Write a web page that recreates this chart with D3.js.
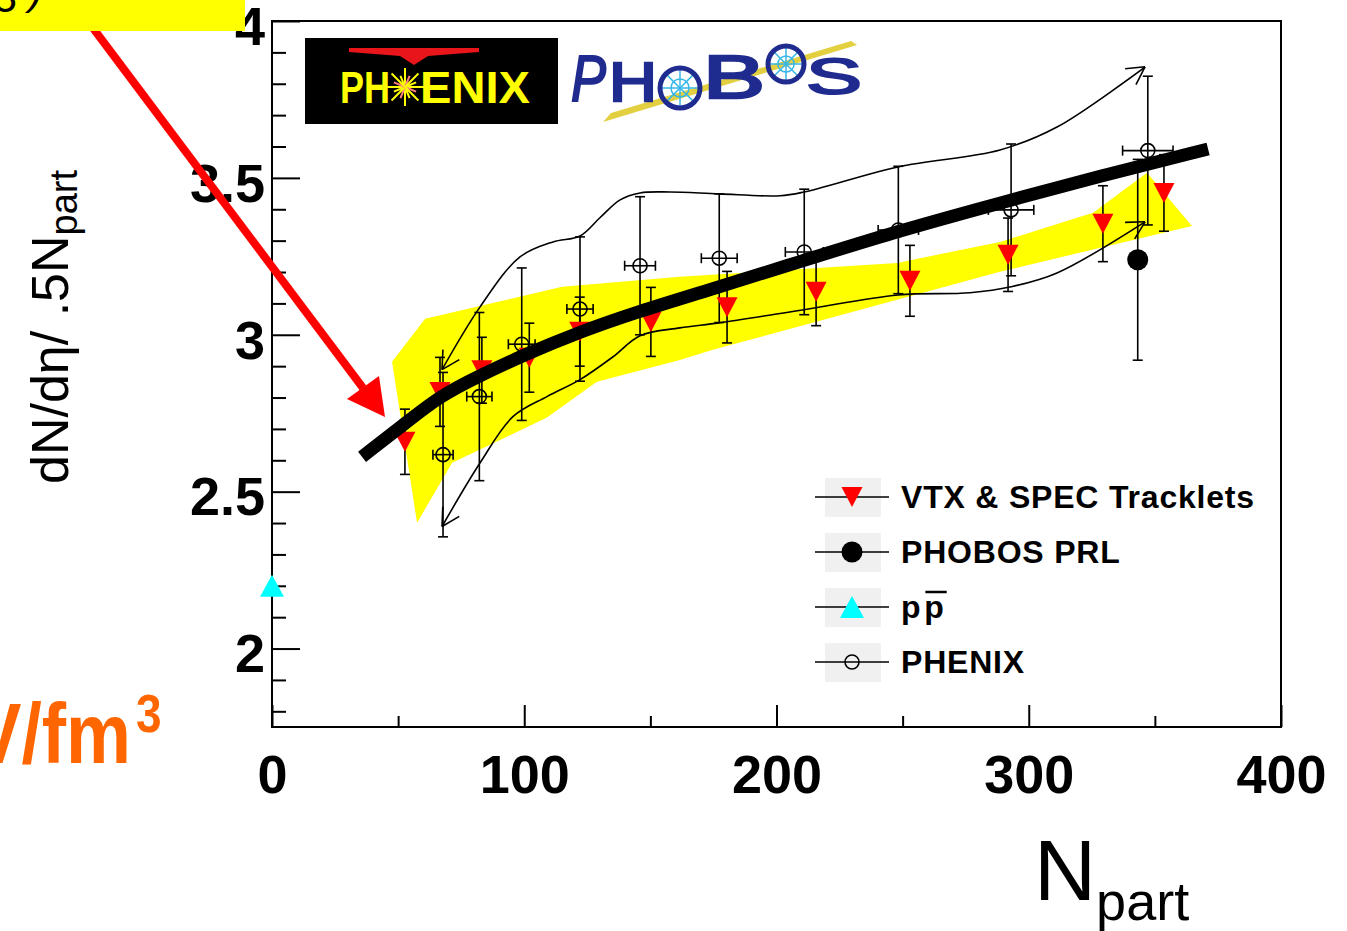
<!DOCTYPE html>
<html>
<head>
<meta charset="utf-8">
<script src="https://cdn.jsdelivr.net/npm/d3@7"></script>
<style>
  body { margin: 0; background: #fff; }
  svg { display: block; }
  text { font-family: "Liberation Sans", Arial, Helvetica, sans-serif; }
</style>
</head>
<body>
<svg id="chart" width="1347" height="931"></svg>
<script>
// ---- VTX & SPEC tracklets ----
const vtxNpart  = [52.7, 66.6, 83.2, 102.0, 122.0, 150.2, 180.4, 215.7, 252.9, 291.8, 329.4, 353.6];
const vtxDndeta = [2.659, 2.818, 2.887, 2.927, 3.010, 3.041, 3.088, 3.137, 3.172, 3.255, 3.354, 3.452];
const vtxErr    = [0.104, 0.110, 0.105, 0.110, 0.110, 0.110, 0.114, 0.108, 0.113, 0.117, 0.121, 0.122];

// ---- PHENIX ----
const phenixNpart    = [67.8, 82.2, 99.0, 122.1, 145.9, 177.3, 211.0, 248.3, 293.0, 347.2];
const phenixDndeta   = [2.618, 2.803, 2.970, 3.082, 3.220, 3.244, 3.264, 3.334, 3.398, 3.587];
const phenixErr      = [0.262, 0.268, 0.243, 0.230, 0.220, 0.205, 0.200, 0.203, 0.210, 0.237];
const phenixNpartErr = [4.0, 5.0, 5.3, 5.2, 6.1, 7.1, 7.5, 8.0, 9.0, 10.0];

// PHENIX systematic envelope (upper / lower)
const upperNpart  = [67.4, 82.5, 98.3, 111.4, 122.1, 130.0, 138.0, 145.9, 157.8, 177.2, 201.4, 210.9, 248.2, 288.6, 311.2, 346.1];
const upperDndeta = [2.889, 3.089, 3.248, 3.296, 3.315, 3.373, 3.430, 3.452, 3.455, 3.449, 3.443, 3.455, 3.535, 3.589, 3.662, 3.854];
const lowerNpart  = [67.4, 82.5, 95.5, 109.0, 122.1, 135.2, 145.9, 161.7, 177.2, 210.9, 248.2, 276.7, 293.0, 311.2, 346.1];
const lowerDndeta = [2.389, 2.592, 2.739, 2.803, 2.857, 2.930, 2.997, 3.022, 3.038, 3.080, 3.127, 3.134, 3.153, 3.197, 3.360];

// ---- PHOBOS PRL ----
const phobosNpart  = [343.2];
const phobosDndeta = [3.239];
const phobosErr    = [0.32];

// ---- p pbar ----
const ppNpart  = [0];
const ppDndeta = [2.2];

// ---- systematic band (closed outline) ----
const bandNpart  = [47.6, 60.7, 115.0, 161.7, 247.8, 288.6, 325.5, 346.9, 364.7, 288.6, 174.8, 161.7, 128.8, 109.0, 71.4, 57.5];
const bandDndeta = [2.914, 3.051, 3.153, 3.185, 3.229, 3.296, 3.389, 3.516, 3.347, 3.201, 2.952, 2.920, 2.850, 2.736, 2.592, 2.401];

// ---- model curve ----
const modelNpart  = [35.7, 50.7, 66.6, 82.5, 99.1, 122.1, 145.9, 169.7, 210.5, 248.2, 288.6, 328.2, 371.1];
const modelDndeta = [2.611, 2.704, 2.806, 2.870, 2.933, 3.010, 3.076, 3.134, 3.236, 3.331, 3.420, 3.506, 3.592];

// ---- axes ----
const xMajor = [0, 100, 200, 300, 400];
const xMinor = [50, 150, 250, 350];
const yMajor = [2, 2.5, 3, 3.5, 4];
const yMinor = [1.8, 1.9, 2.1, 2.2, 2.3, 2.4, 2.6, 2.7, 2.8, 2.9, 3.1, 3.2, 3.3, 3.4, 3.6, 3.7, 3.8, 3.9];

const legendLabels = ["VTX & SPEC Tracklets", "PHOBOS PRL", "pp", "PHENIX"];
const legendKinds  = ["tridown", "dot", "triup", "open"];

const svg = d3.select("#chart");
const x = d3.scaleLinear().domain([0, 400]).range([272, 1281]);
const y = d3.scaleLinear().domain([1.75, 4]).range([727, 21]);

const zip = (a, b) => a.map((v, i) => [v, b[i]]);

// ---- logos ----
const logo = svg.append("g");
logo.append("rect").attr("x", 305).attr("y", 38).attr("width", 253).attr("height", 86).attr("fill", "#000");
logo.append("path").attr("d", "M349,48 L479,48 L479,52 L428,56 L414,65 L400,56 L349,52 Z").attr("fill", "#e8161a");
logo.append("text").attr("x", 340).attr("y", 103).attr("font-size", 45).attr("font-weight", "bold")
  .attr("fill", "#ffff00").attr("textLength", 50).attr("lengthAdjust", "spacingAndGlyphs").text("PH");
logo.append("text").attr("x", 420).attr("y", 103).attr("font-size", 45).attr("font-weight", "bold")
  .attr("fill", "#ffff00").attr("textLength", 110).attr("lengthAdjust", "spacingAndGlyphs").text("ENIX");
const star = logo.append("g").attr("transform", "translate(405,87)");
d3.range(16).forEach(i => {
  const a = i * Math.PI / 8;
  const r = i % 2 ? 12 : 19;
  star.append("line").attr("x1", 0).attr("y1", 0)
    .attr("x2", r * Math.cos(a)).attr("y2", r * Math.sin(a))
    .attr("stroke", i % 4 === 1 ? "#ff8080" : "#ffff00").attr("stroke-width", 2);
});

const navy = "#1f2b8f";
logo.append("path").attr("d", "M603,122 L611,113 L851,41 L857,45 Z").attr("fill", "#e3d040");
logo.append("text").attr("x", 571).attr("y", 101).attr("font-size", 64).attr("fill", navy)
  .attr("stroke", navy).attr("stroke-width", 2).attr("font-style", "italic")
  .attr("textLength", 35).attr("lengthAdjust", "spacingAndGlyphs").text("P");
logo.append("text").attr("x", 609).attr("y", 101).attr("font-size", 56).attr("fill", navy)
  .attr("stroke", navy).attr("stroke-width", 2.5)
  .attr("textLength", 48).attr("lengthAdjust", "spacingAndGlyphs").text("H");
const wheel = (cx, cy, r) => {
  d3.range(8).forEach(i => {
    const a = i * Math.PI / 4;
    logo.append("line").attr("x1", cx).attr("y1", cy)
      .attr("x2", cx + r * Math.cos(a)).attr("y2", cy + r * Math.sin(a))
      .attr("stroke", "#37b6e8").attr("stroke-width", 1.5);
  });
  logo.append("circle").attr("cx", cx).attr("cy", cy).attr("r", r * 0.45)
    .attr("fill", "none").attr("stroke", "#37b6e8").attr("stroke-width", 1.5);
  logo.append("circle").attr("cx", cx).attr("cy", cy).attr("r", r)
    .attr("fill", "none").attr("stroke", navy).attr("stroke-width", 5);
};
wheel(680, 88, 20);
logo.append("text").attr("x", 703).attr("y", 98).attr("font-size", 62).attr("fill", navy)
  .attr("stroke", navy).attr("stroke-width", 2.5)
  .attr("textLength", 62).attr("lengthAdjust", "spacingAndGlyphs").text("B");
wheel(786, 64, 18);
logo.append("text").attr("x", 806).attr("y", 94).attr("font-size", 50).attr("fill", navy)
  .attr("stroke", navy).attr("stroke-width", 2)
  .attr("textLength", 56).attr("lengthAdjust", "spacingAndGlyphs").text("S");

// ---- yellow systematic band ----
svg.append("path")
  .attr("d", d3.line().x(d => x(d[0])).y(d => y(d[1])).curve(d3.curveLinearClosed)(zip(bandNpart, bandDndeta)))
  .attr("fill", "#ffff00").attr("stroke", "none");

// ---- PHENIX envelope curves with open arrow heads ----
function envelope(nArr, vArr) {
  const pts = zip(nArr, vArr).map(d => [x(d[0]), y(d[1])]);
  svg.append("path")
    .attr("d", d3.line().curve(d3.curveCatmullRom.alpha(0.5))(pts))
    .attr("fill", "none").attr("stroke", "#000").attr("stroke-width", 1.6);
  const head = (tip, from) => {
    const ang = Math.atan2(tip[1] - from[1], tip[0] - from[0]);
    [-0.5, 0.5].forEach(da => {
      svg.append("line").attr("x1", tip[0]).attr("y1", tip[1])
        .attr("x2", tip[0] - 20 * Math.cos(ang + da)).attr("y2", tip[1] - 20 * Math.sin(ang + da))
        .attr("stroke", "#000").attr("stroke-width", 1.6);
    });
  };
  head(pts[0], pts[1]);
  head(pts[pts.length - 1], pts[pts.length - 2]);
}
envelope(upperNpart, upperDndeta);
envelope(lowerNpart, lowerDndeta);

// ---- markers ----
function marker(g, kind, cx, cy) {
  if (kind === "tridown") {
    g.append("path").attr("d", `M${cx - 10.5},${cy - 10} L${cx + 10.5},${cy - 10} L${cx},${cy + 10} Z`).attr("fill", "#ff0000");
  } else if (kind === "triup") {
    g.append("path").attr("d", `M${cx - 12},${cy + 11} L${cx + 12},${cy + 11} L${cx},${cy - 11} Z`).attr("fill", "#00ffff");
  } else if (kind === "dot") {
    g.append("circle").attr("cx", cx).attr("cy", cy).attr("r", 10.5).attr("fill", "#000");
  } else {
    g.append("circle").attr("cx", cx).attr("cy", cy).attr("r", 7).attr("fill", "none")
      .attr("stroke", "#000").attr("stroke-width", 1.6);
  }
}

function yErrorBars(g, nArr, vArr, eArr, cap) {
  nArr.forEach((n, i) => {
    const cx = x(n), y0 = y(vArr[i] - eArr[i]), y1 = y(vArr[i] + eArr[i]);
    g.append("line").attr("x1", cx).attr("x2", cx).attr("y1", y0).attr("y2", y1).attr("stroke", "#000").attr("stroke-width", 1.6);
    [y0, y1].forEach(yy => g.append("line").attr("x1", cx - cap).attr("x2", cx + cap).attr("y1", yy).attr("y2", yy)
      .attr("stroke", "#000").attr("stroke-width", 1.6));
  });
}

const pts = svg.append("g");
// PHENIX error bars (x and y)
yErrorBars(pts, phenixNpart, phenixDndeta, phenixErr, 5);
phenixNpart.forEach((n, i) => {
  const cy = y(phenixDndeta[i]), x0 = x(n - phenixNpartErr[i]), x1 = x(n + phenixNpartErr[i]);
  pts.append("line").attr("x1", x0).attr("x2", x1).attr("y1", cy).attr("y2", cy).attr("stroke", "#000").attr("stroke-width", 1.6);
  [x0, x1].forEach(xx => pts.append("line").attr("x1", xx).attr("x2", xx).attr("y1", cy - 5).attr("y2", cy + 5)
    .attr("stroke", "#000").attr("stroke-width", 1.6));
});
yErrorBars(pts, vtxNpart, vtxDndeta, vtxErr, 5);
yErrorBars(pts, phobosNpart, phobosDndeta, phobosErr, 5);

vtxNpart.forEach((n, i) => marker(pts, "tridown", x(n), y(vtxDndeta[i])));
phenixNpart.forEach((n, i) => marker(pts, "open", x(n), y(phenixDndeta[i])));
phobosNpart.forEach((n, i) => marker(pts, "dot", x(n), y(phobosDndeta[i])));

// ---- model curve ----
svg.append("path")
  .attr("d", d3.line().x(d => x(d[0])).y(d => y(d[1])).curve(d3.curveBasis)(zip(modelNpart, modelDndeta)))
  .attr("fill", "none").attr("stroke", "#000").attr("stroke-width", 13);

// ---- frame and axes ----
const axes = svg.append("g");
axes.append("g").attr("transform", "translate(0,727)")
  .call(d3.axisBottom(x).tickValues(xMajor).tickSize(-22).tickFormat(d3.format("d")))
  .call(g => g.select(".domain").remove())
  .call(g => g.selectAll("line").attr("stroke", "#000").attr("stroke-width", 2))
  .call(g => g.selectAll("text").attr("y", 66).attr("dy", null).attr("font-size", 54).attr("font-weight", "bold")
    .attr("fill", "#000").attr("font-family", "Liberation Sans, Arial, sans-serif"));
axes.append("g").attr("transform", "translate(0,727)")
  .call(d3.axisBottom(x).tickValues(xMinor).tickSize(-11).tickFormat(""))
  .call(g => g.select(".domain").remove())
  .call(g => g.selectAll("line").attr("stroke", "#000").attr("stroke-width", 2));
axes.append("g").attr("transform", "translate(272,0)")
  .call(d3.axisLeft(y).tickValues(yMajor).tickSize(-28).tickFormat(d => d3.format("")(d)))
  .call(g => g.select(".domain").remove())
  .call(g => g.selectAll("line").attr("stroke", "#000").attr("stroke-width", 2))
  .call(g => g.selectAll("text").attr("x", -7).attr("dy", "0.43em").attr("font-size", 54).attr("font-weight", "bold")
    .attr("fill", "#000").attr("font-family", "Liberation Sans, Arial, sans-serif"));
axes.append("g").attr("transform", "translate(272,0)")
  .call(d3.axisLeft(y).tickValues(yMinor).tickSize(-14).tickFormat(""))
  .call(g => g.select(".domain").remove())
  .call(g => g.selectAll("line").attr("stroke", "#000").attr("stroke-width", 2));
axes.append("rect").attr("x", 272).attr("y", 21).attr("width", 1009).attr("height", 706)
  .attr("fill", "none").attr("stroke", "#000").attr("stroke-width", 2);

// p pbar point on the axis
ppNpart.forEach((n, i) => marker(svg, "triup", x(n), y(ppDndeta[i])));

// ---- axis titles ----
const xt = svg.append("text").attr("x", 1034).attr("y", 900).attr("font-size", 86).attr("fill", "#000");
xt.append("tspan").text("N");
xt.append("tspan").attr("dy", 20).attr("font-size", 54).text("part");

const yt = svg.append("text").attr("transform", "translate(68,484) rotate(-90)").attr("font-size", 52).attr("fill", "#000");
yt.append("tspan").text("dN/dη/ .5N");
yt.append("tspan").attr("dy", 9).attr("font-size", 38).text("part");

// ---- legend ----
const leg = svg.append("g");
legendLabels.forEach((lab, i) => {
  const cy = 497 + i * 55;
  leg.append("rect").attr("x", 825).attr("y", cy - 19).attr("width", 56).attr("height", 39).attr("fill", "#f0f0f0");
  leg.append("line").attr("x1", 815).attr("x2", 889).attr("y1", cy).attr("y2", cy).attr("stroke", "#000").attr("stroke-width", 1.6);
  marker(leg, legendKinds[i], 852, cy);
  const t = leg.append("text").attr("x", 901).attr("y", cy + 11).attr("font-size", 32).attr("font-weight", "bold")
    .attr("letter-spacing", 0.8).attr("fill", "#000");
  if (lab === "pp") {
    t.append("tspan").text("p");
    t.append("tspan").attr("dx", 3).text("p");
    const ext = t.node().getExtentOfChar(1);
    leg.append("line").attr("x1", ext.x + 1).attr("x2", ext.x + ext.width + 2).attr("y1", cy - 15).attr("y2", cy - 15)
      .attr("stroke", "#000").attr("stroke-width", 2.5);
  } else {
    t.text(lab);
  }
});

// ---- annotations ----
svg.append("line").attr("x1", 72).attr("y1", 0).attr("x2", 363).attr("y2", 388)
  .attr("stroke", "#ff0000").attr("stroke-width", 8);
svg.append("path").attr("d", "M385,417 L347,399 L379,376 Z").attr("fill", "#ff0000");

svg.append("rect").attr("x", 0).attr("y", 0).attr("width", 245).attr("height", 31).attr("fill", "#ffff00");
const yb = svg.append("text").attr("x", -6).attr("y", 12).attr("font-size", 42)
  .attr("font-family", "Liberation Serif, Times New Roman, serif").attr("font-style", "italic").attr("fill", "#000");
yb.append("tspan").text("3 ");
yb.append("tspan").attr("dy", -8).text(")");

const orange = "#ff6600";
svg.append("text").attr("x", 131).attr("y", 0).attr("text-anchor", "end")
  .attr("transform", "translate(0,763) scale(1,1.18)")
  .attr("font-size", 73).attr("font-weight", "bold").attr("fill", orange).text("GeV/fm");
svg.append("text").attr("x", 136).attr("y", 0)
  .attr("transform", "translate(0,732) scale(1,1.18)")
  .attr("font-size", 46).attr("font-weight", "bold").attr("fill", orange).text("3");
</script>
</body>
</html>
